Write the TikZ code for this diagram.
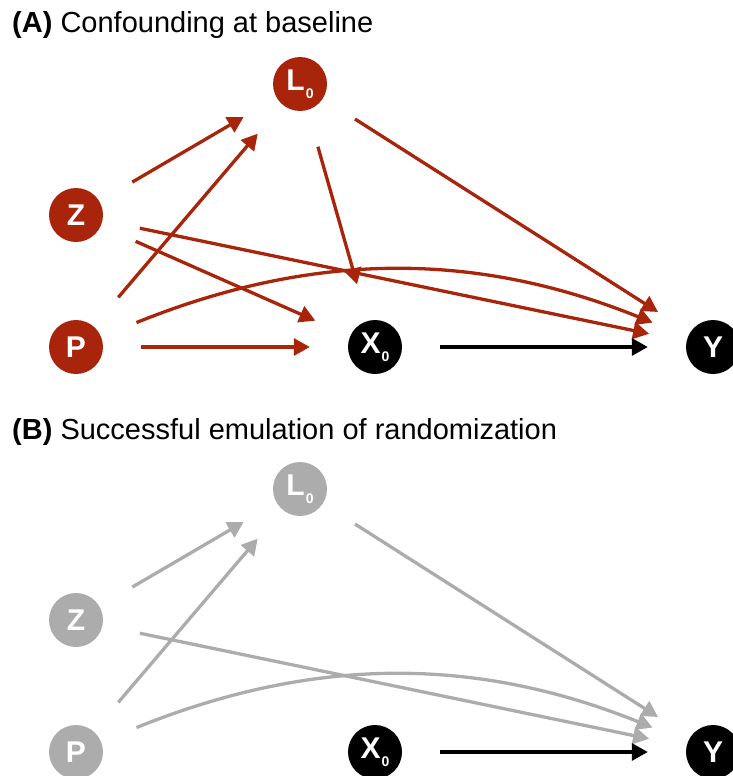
\documentclass[tikz,border=0pt]{standalone}
\usepackage{fontspec}
\setmainfont{Liberation Sans}
\usetikzlibrary{arrows.meta}

\definecolor{confred}{RGB}{168,36,10}
\definecolor{fadegray}{RGB}{172,172,172}
\newcommand{\tzero}{\kern1pt\raisebox{-8pt}{\fontsize{14}{14}\selectfont 0}}

\begin{document}
\begin{tikzpicture}[
    x=1pt, y=-1pt,
    >={Triangle[length=16pt,width=17pt]},
    var/.style={circle, minimum size=54pt, inner sep=0pt, text=white,
        font=\fontsize{30}{30}\selectfont\bfseries},
    conf/.style={var, fill=confred},
    faded/.style={var, fill=fadegray},
    main/.style={var, fill=black},
    edge/.style={->, line width=3.3pt, shorten <=38pt, shorten >=38pt},
    title/.style={anchor=base west, inner sep=0pt,
        font=\fontsize{29}{33}\selectfont}
]
    \useasboundingbox (0,0) rectangle (732,776);

    % (A) confounding at baseline
    \node[title] (titleA) at (12,33) {\textbf{(A)} Confounding at baseline};
    \node[conf] (LA) at (300,84) {L\tzero};
    \node[conf] (ZA) at (76,215) {Z};
    \node[conf] (PA) at (76,347) {P};
    \node[main] (XA) at (375,347) {X\tzero};
    \node[main] (YA) at (713,347) {Y};

    \draw[edge, confred] (ZA) -- (LA);
    \draw[edge, confred] (PA) -- (LA);
    \draw[edge, confred] (LA) -- (XA);
    \draw[edge, confred] (LA) -- (YA);
    \draw[edge, confred] (ZA) -- (XA);
    \draw[edge, confred] (ZA) -- (YA);
    \draw[edge, confred] (PA) to[bend left=22] (YA);
    \draw[edge, confred] (PA) -- (XA);
    \draw[edge, black] (XA) -- (YA);

    % (B) successful emulation of randomization
    \node[title] (titleB) at (12,439) {\textbf{(B)} Successful emulation of randomization};
    \node[faded] (LB) at (300,489) {L\tzero};
    \node[faded] (ZB) at (76,620) {Z};
    \node[faded] (PB) at (76,752) {P};
    \node[main] (XB) at (375,752) {X\tzero};
    \node[main] (YB) at (713,752) {Y};

    \draw[edge, fadegray] (ZB) -- (LB);
    \draw[edge, fadegray] (PB) -- (LB);
    \draw[edge, fadegray] (LB) -- (YB);
    \draw[edge, fadegray] (ZB) -- (YB);
    \draw[edge, fadegray] (PB) to[bend left=22] (YB);
    \draw[edge, black] (XB) -- (YB);
\end{tikzpicture}
\end{document}
